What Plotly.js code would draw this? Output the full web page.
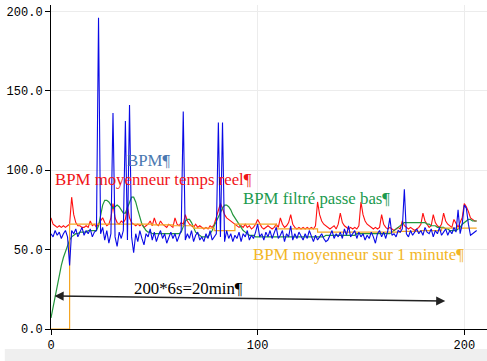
<!DOCTYPE html>
<html>
<head>
<meta charset="utf-8">
<script src="https://cdn.plot.ly/plotly-3.0.1.min.js"></script>
<style>html,body{margin:0;padding:0;background:#fff;}#chart{width:487px;height:361px;}</style>
</head>
<body>
<div id="chart"></div>
<script>
// BPM (raw), index 0..206
const bpm = [
 60,58,62,59,61,57,60,62,58,40,
 62,60,63,58,61,64,59,62,60,63,
 58,61,62,196,60,64,56,62,54,60,
 136,58,52,61,57,62,131,56,141,58,
 48,60,55,62,57,53,60,58,63,56,
 61,55,59,62,57,60,54,58,61,57,
 60,55,58,62,137,56,60,57,62,55,
 59,61,56,58,55,60,57,62,56,58,
 60,130,58,130,55,62,57,60,55,59,
 57,61,55,60,58,62,56,59,57,61,
 66,58,60,56,61,58,62,57,60,64,
 57,59,62,55,60,58,65,56,60,57,
 61,58,56,60,57,62,58,55,59,56,
 58,60,57,55,56,59,62,57,60,58,
 61,57,63,59,65,58,60,62,57,61,
 58,60,56,59,57,61,58,54,60,62,
 58,61,57,62,70,59,60,58,62,61,
 63,88,60,58,62,59,61,63,60,62,
 59,64,61,60,63,58,62,60,64,59,
 61,63,59,62,60,64,61,75,60,66,
 78,76,66,59,60,61,62
];
// BPM moyenneur temps reel
const bpmMoyTR = [
 70,66,65,64,65,64,65,64,65,66,
 83,72,67,65,65,64,64,65,64,68,
 65,66,64,66,68,70,67,65,66,70,
 79,70,67,66,68,67,69,77,70,67,
 66,65,66,65,66,64,65,66,68,65,
 70,66,65,68,66,65,64,66,65,64,
 70,66,65,67,66,72,68,66,65,64,
 66,64,65,64,63,64,63,65,64,66,
 70,75,79,76,72,70,69,68,67,66,
 65,64,65,64,66,64,65,63,64,66,
 69,66,64,63,64,65,64,63,64,66,
 64,70,66,64,65,67,72,66,64,63,
 64,63,64,63,64,63,64,63,65,80,
 72,68,66,65,64,63,64,65,63,66,
 73,67,65,64,63,64,63,64,63,65,
 80,72,68,66,65,64,63,64,63,64,
 72,66,64,63,64,63,62,63,64,63,
 68,65,64,63,64,63,62,63,64,66,
 73,68,66,64,65,72,67,65,64,66,
 73,68,66,65,64,69,66,64,67,70,
 79,77,74,70,69,68,68
];
// BPM filtré passe bas
const bpmFiltre = [
 7,14,21,28,34,40,45,49,53,56,
 58,59,60,60,61,61,61,61,62,62,
 62,62,62,65,72,78,81,81,80,78,
 76,77,78,77,75,73,73,76,80,83,
 83,80,75,70,66,64,62,61,61,60,
 60,60,60,60,60,60,60,60,60,60,
 60,60,60,61,64,68,69,69,67,64,
 61,60,59,58,58,58,58,60,62,65,
 68,71,74,76,78,78,77,75,72,70,
 68,66,64,62,61,60,59,59,59,58,
 58,58,58,58,58,58,58,58,58,58,
 58,58,58,58,58,58,58,58,58,58,
 58,58,58,58,58,58,58,58,58,58,
 58,58,58,59,59,59,59,59,59,59,
 59,59,59,59,59,59,59,59,60,60,
 60,60,60,60,60,60,60,60,60,60,
 60,60,60,60,60,61,62,63,64,65,
 66,67,67,67,67,67,67,67,67,67,
 67,67,66,66,65,65,65,64,64,64,
 64,63,63,62,62,62,62,63,64,66,
 67,68,69,69,68,68,68
];
// BPM moyenneur sur 1 minute (steps)
const moy1minX = [0,9,19,29,39,49,59,69,79,89,99,109,119,129,139,149,159,169,179,189,199,206];
const moy1minY = [0,66,66,66,66,65.5,65,63.5,62,66,66,63,63,61,61,61,61,61.5,62,63.5,63.5,63.5];

const idx = bpm.map((_, i) => i);

const serif = 'Liberation Serif, Times New Roman, serif';
const mono = 'Liberation Mono, Courier New, monospace';

const traces = [
  {x: idx, y: bpmMoyTR, type: 'scatter', mode: 'lines', line: {color: '#ff1010', width: 1.1}, hoverinfo: 'skip'},
  {x: idx, y: bpmFiltre, type: 'scatter', mode: 'lines', line: {color: '#23963c', width: 1.2}, hoverinfo: 'skip'},
  {x: moy1minX, y: moy1minY, type: 'scatter', mode: 'lines', line: {color: '#f5a623', width: 1.2, shape: 'hv'}, hoverinfo: 'skip'},
  {x: idx, y: bpm, type: 'scatter', mode: 'lines', line: {color: '#0a0ae6', width: 1.1}, hoverinfo: 'skip'}
];

const layout = {
  width: 487, height: 361,
  margin: {l: 51, r: 0, t: 5, b: 32},
  paper_bgcolor: '#ffffff', plot_bgcolor: '#ffffff',
  showlegend: false,
  xaxis: {
    range: [0, 211], dtick: 100, tick0: 0,
    ticks: 'outside', ticklen: 5, tickcolor: '#000', tickwidth: 1,
    showline: true, linecolor: '#000', linewidth: 1,
    showgrid: true, gridcolor: '#ececec', zeroline: false,
    tickfont: {family: mono, size: 12, color: '#000'}
  },
  yaxis: {
    range: [0, 204], dtick: 50, tick0: 0, tickformat: '.1f',
    ticks: 'outside', ticklen: 5, tickcolor: '#000', tickwidth: 1,
    showline: true, linecolor: '#000', linewidth: 1,
    showgrid: true, gridcolor: '#ececec', zeroline: false,
    tickfont: {family: mono, size: 12, color: '#000'}
  },
  shapes: [
    {type: 'rect', xref: 'paper', yref: 'paper', x0: -0.106, x1: 1.05, y0: -0.0617, y1: -0.12,
     fillcolor: '#efefef', line: {width: 0}, layer: 'below'}
  ],
  annotations: [
    {x: 47.2, y: 105.8, xref: 'x', yref: 'y', text: 'BPM¶', showarrow: false,
     font: {family: serif, size: 16.8, color: '#4a78b0'}},
    {x: 49.6, y: 94.3, xref: 'x', yref: 'y', text: 'BPM moyenneur temps reel¶', showarrow: false,
     font: {family: serif, size: 16.8, color: '#f01418'}},
    {x: 128.7, y: 82.3, xref: 'x', yref: 'y', text: 'BPM filtré passe bas¶', showarrow: false,
     font: {family: serif, size: 16.8, color: '#1c9a4e'}},
    {x: 149, y: 46.6, xref: 'x', yref: 'y', text: 'BPM moyenneur sur 1 minute¶', showarrow: false,
     font: {family: serif, size: 16.8, color: '#f2b626'}},
    {x: 66.6, y: 25.6, xref: 'x', yref: 'y', text: '200*6s=20min¶', showarrow: false,
     font: {family: serif, size: 16.8, color: '#000'}},
    {x: 190.8, y: 17.6, ax: 1, ay: 20.8, xref: 'x', yref: 'y', axref: 'x', ayref: 'y',
     text: '', showarrow: true, arrowhead: 2, startarrowhead: 2, arrowside: 'end+start',
     arrowsize: 1.4, startarrowsize: 1.4, arrowwidth: 1.3, arrowcolor: '#222', standoff: 0, startstandoff: 0}
  ]
};

Plotly.newPlot('chart', traces, layout, {displayModeBar: false, staticPlot: true});
</script>
</body>
</html>
